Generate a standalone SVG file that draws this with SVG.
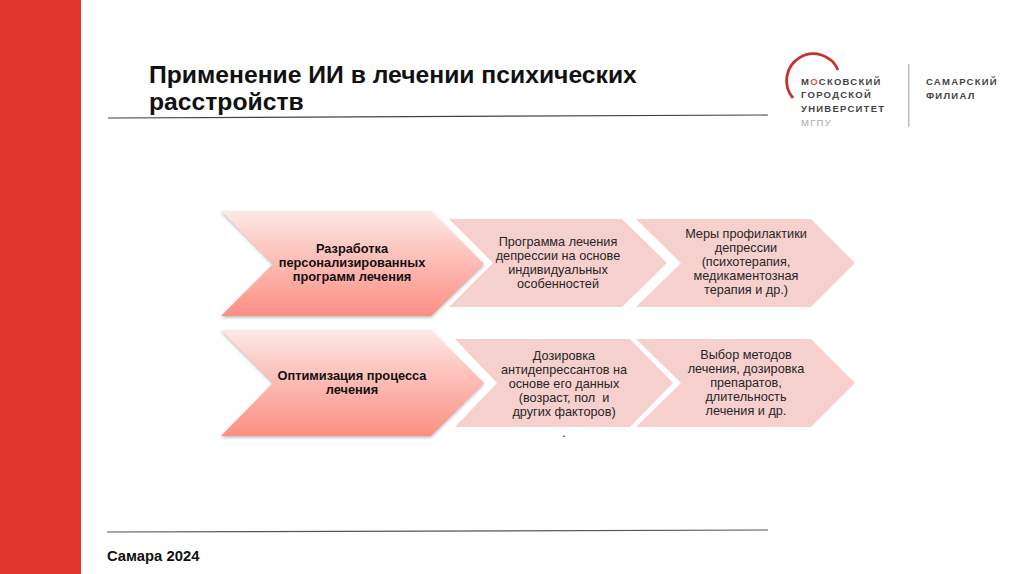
<svg xmlns="http://www.w3.org/2000/svg" width="1024" height="574" viewBox="0 0 1024 574">
<style>
text{font-family:"Liberation Sans",Arial,sans-serif;text-anchor:middle;fill:#1a1a1a}
.t{font-size:12.7px;fill:#262626}
.b{font-size:12.8px;font-weight:bold;fill:#111}
.h{font-size:24.7px;font-weight:bold;text-anchor:start;fill:#111}
.lg{font-size:9.5px;font-weight:bold;text-anchor:start;letter-spacing:1.25px;fill:#444}
.s{fill:#f6d0cd}
.m{fill:url(#g)}
</style>
<defs>
<linearGradient id="g" x1="0" y1="0" x2="0" y2="1"><stop offset="0" stop-color="#fde8e5"/><stop offset="0.5" stop-color="#fdbab3"/><stop offset="1" stop-color="#fc8f84"/></linearGradient>
<filter id="sh" x="-5%" y="-5%" width="110%" height="115%"><feDropShadow dx="0" dy="1.5" stdDeviation="1.5" flood-color="#888" flood-opacity="0.6"/></filter>
</defs>
<rect width="1024" height="574" fill="#fff"/>
<rect id="band" x="0" y="0" width="81" height="574" fill="#e0352b"/>
<g id="title"><text class="h" x="149" y="83">Применение ИИ в лечении психических</text><text class="h" x="149" y="110">расстройств</text></g>
<path d="M108 118 L768 115" stroke="#444" stroke-width="1.2" fill="none"/>
<path d="M107 532 L768 530" stroke="#555" stroke-width="1.2" fill="none"/>
<g id="logo">
<path d="M793 98 A26.8 26.8 0 1 1 838 70" fill="none" stroke="#c9302c" stroke-width="2.800"/>
<text class="lg" x="801" y="85">М<tspan fill="#d9534f">О</tspan>СКОВСКИЙ</text>
<text class="lg" x="801" y="98">ГОРОДСКОЙ</text>
<text class="lg" x="801" y="112">УНИВЕРСИТЕТ</text>
<text class="lg" x="801" y="126" style="font-weight:normal;fill:#aaa">МГПУ</text>
<rect x="908" y="64" width="1.500" height="63" fill="#bbb"/>
<text class="lg" x="926" y="85">САМАРСКИЙ</text>
<text class="lg" x="926" y="99">ФИЛИАЛ</text>
</g>
<g id="n1"><path class="m" filter="url(#sh)" d="M221 211 H431 L484 264 L431 316 H221 L273 264 Z"/><text class="b" x="352" y="253">Разработка</text><text class="b" x="352" y="267">персонализированных</text><text class="b" x="352" y="281">программ лечения</text></g>
<g id="n2"><path class="s" d="M449 219 H622 L667 263 L622 307 H449 L493 263 Z"/><text class="t" x="558" y="246">Программа лечения</text><text class="t" x="558" y="260">депрессии на основе</text><text class="t" x="558" y="274">индивидуальных</text><text class="t" x="558" y="288">особенностей</text></g>
<g id="n3"><path class="s" d="M636 219 H811 L855 263 L811 307 H636 L681 263 Z"/><text class="t" x="746" y="238">Меры профилактики</text><text class="t" x="746" y="252">депрессии</text><text class="t" x="746" y="266">(психотерапия,</text><text class="t" x="746" y="280">медикаментозная</text><text class="t" x="746" y="294">терапия и др.)</text></g>
<g id="n4"><path class="m" filter="url(#sh)" d="M221 330 H431 L484 383 L431 436 H221 L273 383 Z"/><text class="b" x="352" y="380">Оптимизация процесса</text><text class="b" x="352" y="394">лечения</text></g>
<g id="n5"><path class="s" d="M455 339 H630 L673 383 L630 427 H455 L497 383 Z"/><text class="t" x="564" y="360">Дозировка</text><text class="t" x="564" y="374">антидепрессантов на</text><text class="t" x="564" y="388">основе его данных</text><text class="t" x="564" y="402" xml:space="preserve">(возраст, пол  и</text><text class="t" x="564" y="416">других факторов)</text><text class="t" x="564" y="437">.</text></g>
<g id="n6"><path class="s" d="M636 339 H811 L855 383 L811 427 H636 L681 383 Z"/><text class="t" x="746" y="359">Выбор методов</text><text class="t" x="746" y="373">лечения, дозировка</text><text class="t" x="746" y="387">препаратов,</text><text class="t" x="746" y="401">длительность</text><text class="t" x="746" y="415">лечения и др.</text></g>
<text x="107" y="561" style="font-size:14.800px;font-weight:bold;text-anchor:start;fill:#111">Самара 2024</text>
<g id="connectors"></g>
</svg>
